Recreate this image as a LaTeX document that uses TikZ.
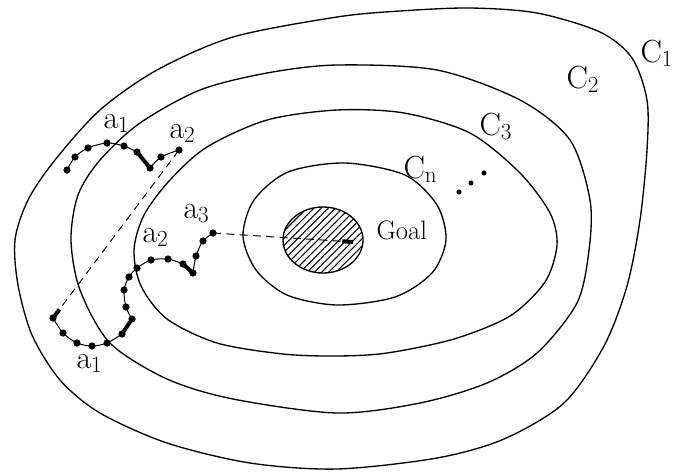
\documentclass[tikz,border=0pt]{standalone}
\usetikzlibrary{patterns.meta,arrows.meta}

\tikzset{every picture/.style={line width=0.75pt}}
\tikzset{
  contour/.style={line width=1pt},
  dot/.style={circle,fill,inner sep=0pt,minimum size=5.4pt},
  sdot/.style={circle,fill,inner sep=0pt,minimum size=3.8pt},
  heavy/.style={line width=3pt},
  jump/.style={dash pattern=on 6pt off 4pt,-{Rectangle[length=8pt,width=3pt]}},
  lbl/.style={anchor=base west,inner sep=0pt,font=\fontsize{24}{28}\selectfont},
}

\begin{document}
\begin{tikzpicture}[x=0.75pt,y=0.75pt,yscale=-1,xscale=1]
\useasboundingbox (0,0) rectangle (674,472);

%Contour C1
\draw[contour] plot[smooth cycle] coordinates {(15,240) (18,285) (32,335) (60,380) (100,413) (167,443) (250,463) (337,469) (437,458) (504,439) (564,403) (604,346) (627,286) (640,220) (647,150) (647,100) (632,58) (600,32) (537,13) (470,8) (400,11) (337,17) (233,37) (157,70) (100,110) (55,160) (28,200)};
%Contour C2
\draw[contour] plot[smooth cycle] coordinates {(337,65) (437,70) (520,100) (570,140) (590,200) (589,250) (577,303) (537,353) (487,383) (420,403) (337,413) (233,399) (167,379) (110,343) (80,290) (71,240) (78,195) (100,160) (140,123) (200,90) (267,73)};
%Contour C3
\draw[contour] plot[smooth cycle] coordinates {(337,110) (404,113) (470,133) (520,173) (550,213) (557,245) (545,282) (510,316) (454,339) (387,353) (337,356) (283,354) (217,343) (167,319) (141,286) (134,250) (144,215) (170,180) (207,147) (267,120)};
%Contour Cn
\draw[contour] plot[smooth cycle] coordinates {(345,163) (405,175) (437,205) (446,240) (432,273) (395,297) (337,305) (287,295) (256,270) (243,236) (254,200) (288,172)};

%Goal region
\draw[contour,pattern={Lines[angle=45,distance=3.8pt,line width=0.8pt]}] (323,240) ellipse [x radius=40, y radius=33];
\coordinate (goal) at (353,242);

%Upper walk
\node[dot] (u1) at (67,170) {};
\node[dot] (u2) at (75,157) {};
\node[dot] (u3) at (88,148) {};
\node[dot] (u4) at (107,143) {};
\node[dot] (u5) at (124,146) {};
\node[dot] (u6) at (137,152) {};
\node[dot] (u7) at (150,168) {};
\node[dot] (u8) at (161,157) {};
\node[dot] (u9) at (179,150) {};
\draw plot[smooth] coordinates {(u1.center) (u2.center) (u3.center) (u4.center) (u5.center) (u6.center)};
\draw[heavy] (u6.center) -- (u7.center);
\draw plot[smooth] coordinates {(u7.center) (u8.center) (u9.center)};

%Lower walk
\node[dot] (l1) at (53,318) {};
\node[dot] (l2) at (63,333) {};
\node[dot] (l3) at (77,343) {};
\node[dot] (l4) at (92,346) {};
\node[dot] (l5) at (107,343) {};
\node[dot] (l6) at (122,334) {};
\node[dot] (l7) at (132,319) {};
\node[dot] (l8) at (126,307) {};
\node[dot] (l9) at (124,290) {};
\node[dot] (l10) at (129,277) {};
\node[dot] (l11) at (137,268) {};
\node[dot] (l12) at (151,260) {};
\node[dot] (l13) at (168,259) {};
\node[dot] (l14) at (183,264) {};
\node[dot] (l15) at (193,273) {};
\node[dot] (l16) at (196,256) {};
\node[dot] (l17) at (203,241) {};
\node[dot] (l18) at (213,233) {};
\draw plot[smooth] coordinates {(l1.center) (l2.center) (l3.center) (l4.center) (l5.center) (l6.center)};
\draw[heavy] (l6.center) -- (l7.center);
\draw plot[smooth] coordinates {(l7.center) (l8.center) (l9.center) (l10.center) (l11.center) (l12.center) (l13.center) (l14.center)};
\draw[heavy] (l14.center) -- (l15.center);
\draw plot[smooth] coordinates {(l15.center) (l16.center) (l17.center) (l18.center)};

%Jumps
\draw[jump] (u9.center) -- (l1.center);
\draw[jump] (l18.center) -- (goal);

%More contours
\node[sdot] (e1) at (459,192) {};
\node[sdot] (e2) at (471,183) {};
\node[sdot] (e3) at (484,173) {};

% Text Node
\node[lbl] (c1) at (640,62) {C$_1$};
\node[lbl] (c2) at (566,88) {C$_2$};
\node[lbl] (c3) at (479,135) {C$_3$};
\node[lbl] (cn) at (403,178) {C$_\mathrm{n}$};
\node[lbl] (a1u) at (103,128) {a$_1$};
\node[lbl] (a2u) at (169,138) {a$_2$};
\node[lbl] (a1l) at (76,368) {a$_1$};
\node[lbl] (a2l) at (142,242) {a$_2$};
\node[lbl] (a3) at (183,218) {a$_3$};
\node[lbl,font=\fontsize{20}{24}\selectfont] (goaltext) at (376,239) {Goal};

\end{tikzpicture}
\end{document}
